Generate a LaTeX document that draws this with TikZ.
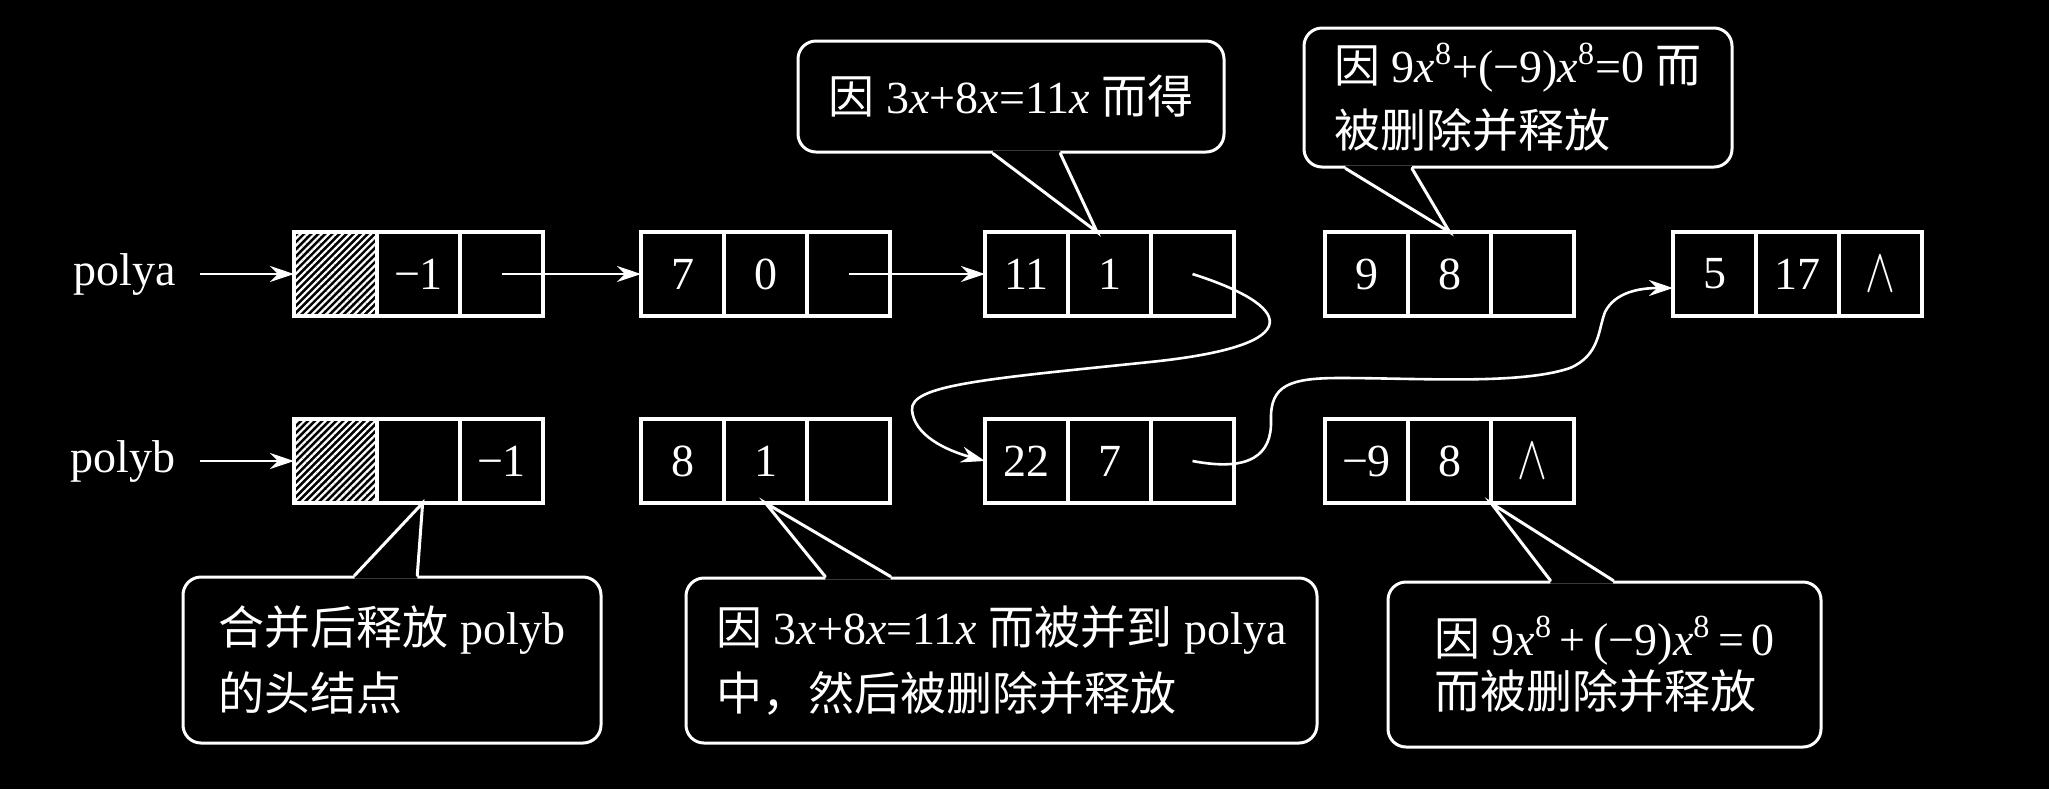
\documentclass[tikz,border=0pt]{standalone}
\usepackage{fontspec}
\setmainfont{Liberation Serif}
\newfontfamily\cjk{Noto Sans CJK SC}
\usepackage{graphicx}
\usetikzlibrary{arrows.meta,positioning,calc,patterns.meta}

\newcommand{\zh}[1]{{\cjk #1}}
\newcommand{\nullmark}{\scalebox{0.9}[1.25]{$\wedge$}}

\begin{document}
\begin{tikzpicture}[x=0.5pt, y=-0.5pt, white,
    font=\fontsize{23}{33}\selectfont,
    cell/.style={draw, line width=1.8pt, minimum width=41.5pt, minimum height=42pt,
      inner sep=0pt, outer sep=0pt},
    hatch/.style={pattern={Lines[angle=45,distance=2.5pt,line width=1.1pt]}, pattern color=white},
    arr/.style={line width=1.3pt, -{Stealth[length=12pt,width=8pt,inset=4pt]}},
    note/.style={draw, line width=1.5pt, rounded corners=9pt, inner sep=0pt, align=left},
    ptr/.style={line width=1.5pt, line cap=round}]
  % Background
  \fill[black] (0,0) rectangle (2049,789);
  % Head pointers
  \node[anchor=east, inner sep=0pt] (la) at (176,274) {polya};
  \node[anchor=east, inner sep=0pt] (lb) at (176,461) {polyb};
  % Head nodes
  \node[cell, hatch] (ha-c) at (335.5,274) {};
  \node[cell, right=0pt of ha-c] (ha-e) {−1};
  \node[cell, right=0pt of ha-e] (ha-p) {};
  \node[cell, hatch] (hb-c) at (335.5,461) {};
  \node[cell, right=0pt of hb-c] (hb-e) {};
  \node[cell, right=0pt of hb-e] (hb-p) {−1};
  % Term nodes
  \foreach \nm/\px/\py/\cf/\ex/\nx in {
      a1/682.5/274/7/0/{}, a2/1026.5/274/11/1/{}, a3/1366.5/274/9/8/{},
      a4/1714.5/274/5/17/\nullmark,
      b1/682.5/461/8/1/{}, b2/1026.5/461/22/7/{}, b3/1366.5/461/−9/8/\nullmark}
  {
    \node[cell] (\nm-c) at (\px,\py) {\cf};
    \node[cell, right=0pt of \nm-c] (\nm-e) {\ex};
    \node[cell, right=0pt of \nm-e] (\nm-p) {\nx};
  }
  % Links
  \draw[arr, shorten <=12pt] (la) -- (ha-c);
  \draw[arr, shorten <=12pt] (lb) -- (hb-c);
  \draw[arr] (ha-p.center) -- (a1-c.west);
  \draw[arr] (a1-p.center) -- (a2-c.west);
  \draw[arr] (a2-p.center) .. controls (1290,305) and (1315,345) .. (1150,362)
    .. controls (985,379) and (910,385) .. (912,410)
    .. controls (914,435) and (945,450) .. (b2-c.west);
  \draw[arr] (b2-p.center) .. controls (1250,472) and (1272,455) .. (1271,420)
    .. controls (1270,385) and (1290,378) .. (1340,378)
    .. controls (1420,378) and (1520,385) .. (1570,368)
    .. controls (1600,355) and (1598,330) .. (1605,312)
    .. controls (1615,292) and (1640,288) .. ($(a4-c.west)+(0,14)$);
  % Notes
  \node[note, minimum width=213pt, minimum height=55.5pt] (n1) at (1011,96.5)
    {\zh{因} 3\textit{x}+8\textit{x}=11\textit{x} \zh{而得}};
  \node[note, minimum width=214pt, minimum height=69.5pt, font=\fontsize{23}{32.5}\selectfont] (n2) at (1518,97.5)
    {\zh{因} 9\textit{x}\textsuperscript{8}+(−9)\textit{x}\textsuperscript{8}=0 \zh{而}\\\zh{被删除并释放}};
  \node[note, minimum width=209pt, minimum height=83pt] (n3) at (392,660)
    {\zh{合并后释放} polyb\\\zh{的头结点}};
  \node[note, minimum width=315.5pt, minimum height=82.5pt] (n4) at (1001.5,660.5)
    {\zh{因} 3\textit{x}+8\textit{x}=11\textit{x} \zh{而被并到} polya\\\zh{中，然后被删除并释放}};
  \node[note, minimum width=216.5pt, minimum height=82.5pt, font=\fontsize{23}{26.5}\selectfont] (n5) at (1604.5,664.5)
    {\zh{因} 9\textit{x}\textsuperscript{8}\,+\,(−9)\textit{x}\textsuperscript{8}\,=\,0\\\zh{而被删除并释放}};
  % Pointers of the notes
  \coordinate (n1l) at ($(n1.south west)!0.458!(n1.south east)$);
  \coordinate (n1r) at ($(n1.south west)!0.615!(n1.south east)$);
  \coordinate (t1) at ($(a2-e.north west)!0.35!(a2-e.north east)$);
  \fill[black] ($(n1l)+(0,-3)$) -- (n1l) -- (t1) -- (n1r) -- ($(n1r)+(0,-3)$) -- cycle;
  \draw[ptr] (n1l) -- (t1) -- (n1r);
  \coordinate (n2l) at ($(n2.south west)!0.10!(n2.south east)$);
  \coordinate (n2r) at ($(n2.south west)!0.254!(n2.south east)$);
  \fill[black] ($(n2l)+(0,-3)$) -- (n2l) -- (a3-e.north) -- (n2r) -- ($(n2r)+(0,-3)$) -- cycle;
  \draw[ptr] (n2l) -- (a3-e.north) -- (n2r);
  \coordinate (n3l) at ($(n3.north west)!0.411!(n3.north east)$);
  \coordinate (n3r) at ($(n3.north west)!0.56!(n3.north east)$);
  \coordinate (t3) at ($(hb-e.south west)!0.55!(hb-e.south east)$);
  \fill[black] ($(n3l)+(0,3)$) -- (n3l) -- (t3) -- (n3r) -- ($(n3r)+(0,3)$) -- cycle;
  \draw[ptr] (n3l) -- (t3) -- (n3r);
  \coordinate (n4l) at ($(n4.north west)!0.222!(n4.north east)$);
  \coordinate (n4r) at ($(n4.north west)!0.325!(n4.north east)$);
  \fill[black] ($(n4l)+(0,3)$) -- (n4l) -- (b1-e.south) -- (n4r) -- ($(n4r)+(0,3)$) -- cycle;
  \draw[ptr] (n4l) -- (b1-e.south) -- (n4r);
  \coordinate (n5l) at ($(n5.north west)!0.376!(n5.north east)$);
  \coordinate (n5r) at ($(n5.north west)!0.52!(n5.north east)$);
  \fill[black] ($(n5l)+(0,3)$) -- (n5l) -- (b3-e.south east) -- (n5r) -- ($(n5r)+(0,3)$) -- cycle;
  \draw[ptr] (n5l) -- (b3-e.south east) -- (n5r);
\end{tikzpicture}
\end{document}
